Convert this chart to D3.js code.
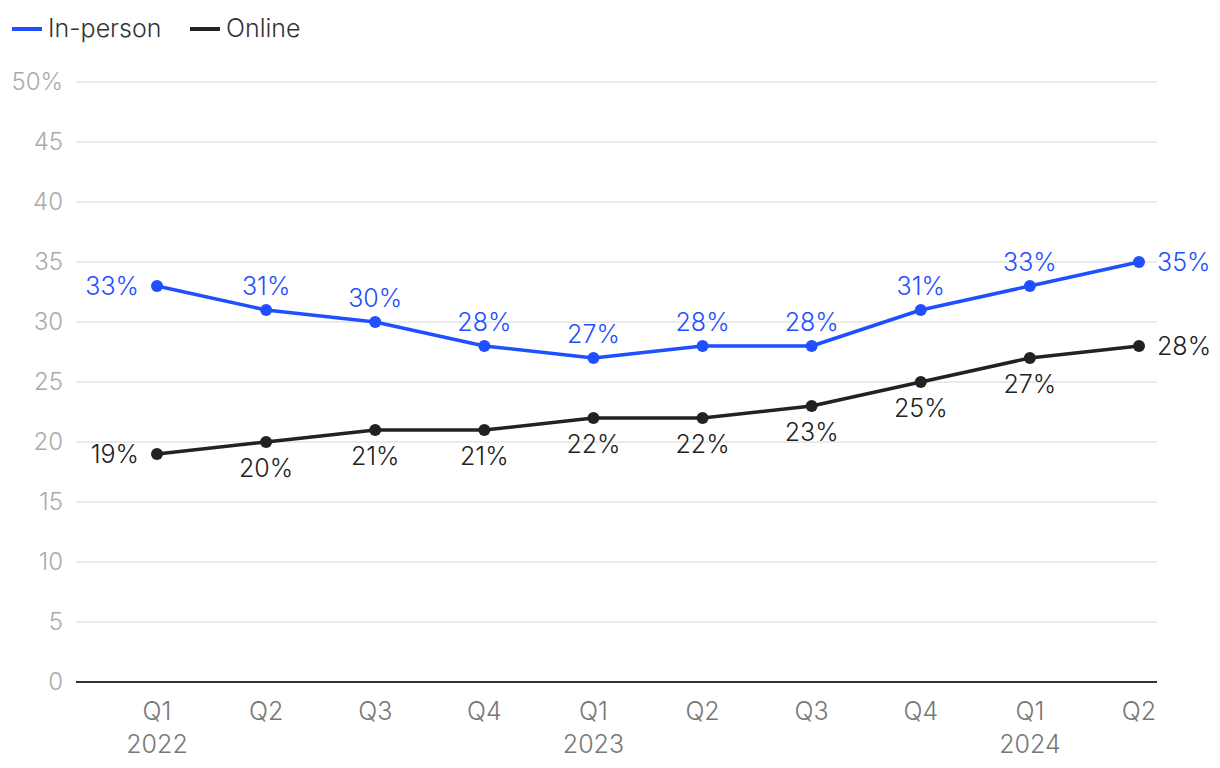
<!DOCTYPE html>
<html><head><meta charset="utf-8">
<script src="https://cdn.jsdelivr.net/npm/d3@7"></script>
<style>body{margin:0;background:#fff}svg{display:block;font-family:Inter,"Noto Sans",sans-serif;font-weight:300}</style>
</head><body><svg id="c" width="1220" height="768"></svg>
<script>
const quarters = ["Q1","Q2","Q3","Q4","Q1","Q2","Q3","Q4","Q1","Q2"];
const years = ["2022","","","","2023","","","","2024",""];
const inPerson = [33,31,30,28,27,28,28,31,33,35];
const online = [19,20,21,21,22,22,23,25,27,28];
const yTicks = [0,5,10,15,20,25,30,35,40,45,50];
const seriesNames = ["In-person","Online"];
const colors = ["#1f4fff","#222222"];

const svg = d3.select("#c");
const idx = d3.range(quarters.length);
const x = d3.scalePoint().domain(idx).range([157,1139]);
const y = d3.scaleLinear().domain([0,50]).range([682,82]);

// grid
svg.append("g").selectAll("line").data(yTicks.filter(d=>d>0)).join("line")
  .attr("x1",76).attr("x2",1157).attr("y1",d=>y(d)).attr("y2",d=>y(d))
  .attr("stroke","#e3e3e3").attr("stroke-width",1.5);
// y labels
svg.append("g").selectAll("text").data(yTicks).join("text")
  .attr("x",63).attr("y",d=>y(d)).attr("dy","0.35em").attr("text-anchor","end")
  .attr("fill","#aaaaaa").attr("font-size",24)
  .text(d=>d===50?d+"%":d);
// baseline
svg.append("line").attr("x1",76).attr("x2",1157).attr("y1",y(0)).attr("y2",y(0))
  .attr("stroke","#333").attr("stroke-width",2);
// x labels
svg.append("g").selectAll("text").data(idx).join("text")
  .attr("x",i=>x(i)).attr("y",720).attr("text-anchor","middle")
  .attr("fill","#777").attr("font-size",25).text(i=>quarters[i]);
svg.append("g").selectAll("text").data(idx.filter(i=>years[i])).join("text")
  .attr("x",i=>x(i)).attr("y",753).attr("text-anchor","middle")
  .attr("fill","#777").attr("font-size",25).text(i=>years[i]);

const line = d3.line().x((d,i)=>x(i)).y(d=>y(d));
[inPerson, online].forEach((vals,s)=>{
  const g = svg.append("g");
  g.append("path").attr("d",line(vals)).attr("fill","none")
    .attr("stroke",colors[s]).attr("stroke-width",3.5).attr("stroke-linejoin","round");
  g.selectAll("circle").data(vals).join("circle")
    .attr("cx",(d,i)=>x(i)).attr("cy",d=>y(d)).attr("r",6).attr("fill",colors[s]);
  g.selectAll("text").data(vals).join("text")
    .attr("fill",colors[s]).attr("font-size",25)
    .attr("x",(d,i)=> i===0 ? x(i)-18 : i===vals.length-1 ? x(i)+18 : x(i))
    .attr("y",(d,i)=>{
      if(i===0||i===vals.length-1) return y(d);
      return s===0 ? y(d)-24 : y(d)+26;
    })
    .attr("dy","0.35em")
    .attr("text-anchor",(d,i)=> i===0?"end": i===vals.length-1?"start":"middle")
    .text(d=>d+"%");
});

// legend
const lg = svg.append("g");
const lx = [12,190];
seriesNames.forEach((n,s)=>{
  lg.append("line").attr("x1",lx[s]).attr("x2",lx[s]+30).attr("y1",29).attr("y2",29)
    .attr("stroke",colors[s]).attr("stroke-width",4);
  lg.append("text").attr("x",lx[s]+36).attr("y",28).attr("dy","0.35em")
    .attr("font-size",25).attr("fill","#333").text(n);
});
</script></body></html>
